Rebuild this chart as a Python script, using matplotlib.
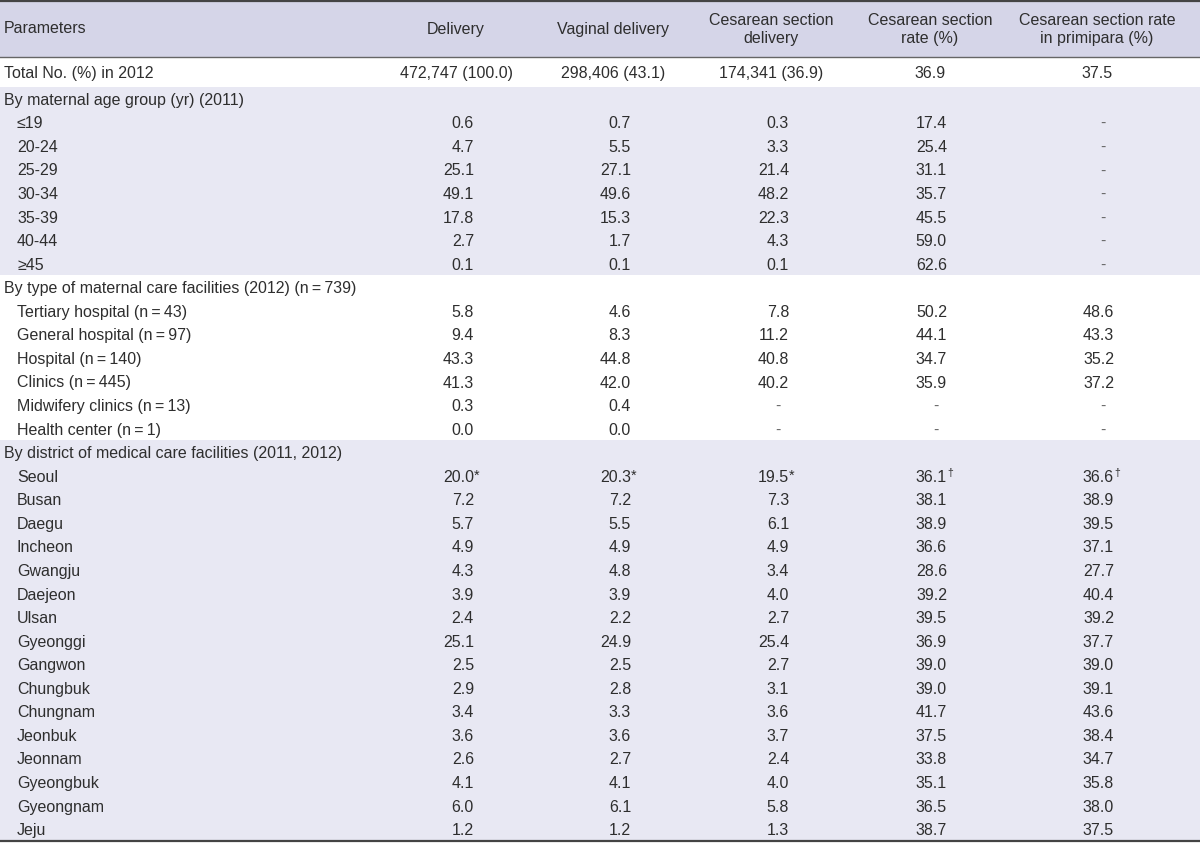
import matplotlib.pyplot as plt
from matplotlib.patches import Rectangle

plt.rcParams["font.family"] = ["Liberation Sans", "DejaVu Sans"]

# ---- table content ----
headers = [
    "Delivery",
    "Vaginal delivery",
    "Cesarean section\ndelivery",
    "Cesarean section\nrate (%)",
    "Cesarean section rate\nin primipara (%)",
]
total_label = "Total No. (%) in 2012"
total_values = ["472,747 (100.0)", "298,406 (43.1)", "174,341 (36.9)", "36.9", "37.5"]

age_title = "By maternal age group (yr) (2011)"
age_groups = ["≤19", "20-24", "25-29", "30-34", "35-39", "40-44", "≥45"]
age_delivery = [0.6, 4.7, 25.1, 49.1, 17.8, 2.7, 0.1]
age_vaginal = [0.7, 5.5, 27.1, 49.6, 15.3, 1.7, 0.1]
age_cesarean = [0.3, 3.3, 21.4, 48.2, 22.3, 4.3, 0.1]
age_rate = [17.4, 25.4, 31.1, 35.7, 45.5, 59.0, 62.6]
age_primi = [None, None, None, None, None, None, None]

fac_title = "By type of maternal care facilities (2012) (n\u2009=\u2009739)"
facilities = [
    "Tertiary hospital (n\u2009=\u200943)",
    "General hospital (n\u2009=\u200997)",
    "Hospital (n\u2009=\u2009140)",
    "Clinics (n\u2009=\u2009445)",
    "Midwifery clinics (n\u2009=\u200913)",
    "Health center (n\u2009=\u20091)",
]
fac_delivery = [5.8, 9.4, 43.3, 41.3, 0.3, 0.0]
fac_vaginal = [4.6, 8.3, 44.8, 42.0, 0.4, 0.0]
fac_cesarean = [7.8, 11.2, 40.8, 40.2, None, None]
fac_rate = [50.2, 44.1, 34.7, 35.9, None, None]
fac_primi = [48.6, 43.3, 35.2, 37.2, None, None]

dist_title = "By district of medical care facilities (2011, 2012)"
districts = ["Seoul", "Busan", "Daegu", "Incheon", "Gwangju", "Daejeon", "Ulsan",
             "Gyeonggi", "Gangwon", "Chungbuk", "Chungnam", "Jeonbuk", "Jeonnam",
             "Gyeongbuk", "Gyeongnam", "Jeju"]
dist_delivery = [20.0, 7.2, 5.7, 4.9, 4.3, 3.9, 2.4, 25.1, 2.5, 2.9, 3.4, 3.6, 2.6, 4.1, 6.0, 1.2]
dist_vaginal = [20.3, 7.2, 5.5, 4.9, 4.8, 3.9, 2.2, 24.9, 2.5, 2.8, 3.3, 3.6, 2.7, 4.1, 6.1, 1.2]
dist_cesarean = [19.5, 7.3, 6.1, 4.9, 3.4, 4.0, 2.7, 25.4, 2.7, 3.1, 3.6, 3.7, 2.4, 4.0, 5.8, 1.3]
dist_rate = [36.1, 38.1, 38.9, 36.6, 28.6, 39.2, 39.5, 36.9, 39.0, 39.0, 41.7, 37.5, 33.8, 35.1, 36.5, 38.7]
dist_primi = [36.6, 38.9, 39.5, 37.1, 27.7, 40.4, 39.2, 37.7, 39.0, 39.1, 43.6, 38.4, 34.7, 35.8, 38.0, 37.5]
seoul_marks = ["*", "*", "*", "\u2020", "\u2020"]

# ---- layout ----
W, H = 1200, 843
col_center = [456, 613, 771, 930, 1097]
col_right = [474, 631, 789, 947, 1114]
header_bottom = 57
total_bottom = 87
row_h = 23.56
fs = 11.5
txt = "#2e2e2e"
header_bg = "#d5d5e8"
band_bg = "#e8e8f3"

fig = plt.figure(figsize=(12, 8.43), dpi=100)
ax = fig.add_axes([0, 0, 1, 1])
ax.set_xlim(0, W)
ax.set_ylim(H, 0)
ax.axis("off")

# header band
ax.add_patch(Rectangle((0, 0), W, header_bottom, color=header_bg, lw=0))
ax.text(4, header_bottom / 2, "Parameters", ha="left", va="center", fontsize=fs, color=txt)
for x, h in zip(col_center, headers):
    ax.text(x, header_bottom / 2 + 1, h, ha="center", va="center", fontsize=fs,
            color=txt, linespacing=1.3, multialignment="center")

# total row
ty = (header_bottom + total_bottom) / 2
ax.text(4, ty, total_label, ha="left", va="center_baseline", fontsize=fs, color=txt)
for x, v in zip(col_center, total_values):
    ax.text(x, ty, v, ha="center", va="center_baseline", fontsize=fs, color=txt)

sections = [
    (age_title, age_groups, [age_delivery, age_vaginal, age_cesarean, age_rate, age_primi], band_bg),
    (fac_title, facilities, [fac_delivery, fac_vaginal, fac_cesarean, fac_rate, fac_primi], "white"),
    (dist_title, districts, [dist_delivery, dist_vaginal, dist_cesarean, dist_rate, dist_primi], band_bg),
]

top = total_bottom
for title, labels, cols, bg in sections:
    n = len(labels) + 1
    ax.add_patch(Rectangle((0, top), W, n * row_h, color=bg, lw=0))
    y = top + row_h / 2
    ax.text(4, y, title, ha="left", va="center_baseline", fontsize=fs, color=txt)
    for i, lab in enumerate(labels):
        y = top + (i + 1.5) * row_h
        ax.text(17, y, lab, ha="left", va="center_baseline", fontsize=fs, color=txt)
        for c, vals in enumerate(cols):
            v = vals[i]
            if v is None:
                ax.text(col_right[c] - 11, y, "-", ha="center", va="center_baseline",
                        fontsize=fs, color="#666666")
                continue
            ax.text(col_right[c], y, f"{v:.1f}", ha="right", va="center_baseline",
                    fontsize=fs, color=txt)
            if lab == "Seoul":
                mark = seoul_marks[c]
                if mark == "*":
                    ax.text(col_right[c] - 0.5, y - 1, mark, ha="left",
                            va="center_baseline", fontsize=fs * 0.9, color=txt)
                else:
                    ax.text(col_right[c] + 0.5, y - 4, mark, ha="left",
                            va="center_baseline", fontsize=fs * 0.65, color=txt)
    top += n * row_h

# rules
ax.axhline(1, color="#444444", lw=1.6)
ax.axhline(header_bottom, color="#666666", lw=1.0)
ax.axhline(top, color="#444444", lw=1.6)

fig.savefig("out.png", dpi=100)
